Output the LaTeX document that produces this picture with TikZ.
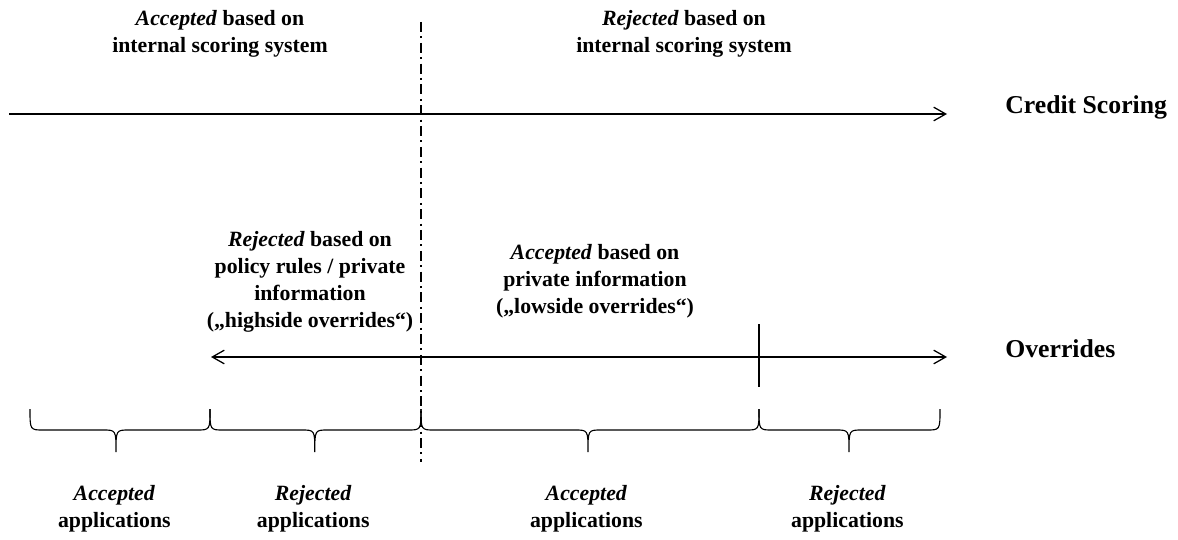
\documentclass[tikz,border=0pt]{standalone}
\usepackage{fontspec}
\setmainfont{Liberation Serif}
\usetikzlibrary{arrows.meta,positioning}

\tikzset{
  txt/.style={font=\bfseries\fontsize{15.5}{19.2}\selectfont, align=center, inner sep=0pt},
  head/.style={font=\bfseries\fontsize{18.3}{22}\selectfont, inner sep=0pt, anchor=base west},
  barb/.tip={Straight Barb[length=0.3cm,width=0.34cm]},
  scale line/.style={line width=0.9pt},
  cutoff/.style={line width=0.8pt, dash pattern=on 0.25cm off 0.11cm on 0.05cm off 0.11cm},
  brc/.style={line width=0.8pt}
}

\begin{document}
\begin{tikzpicture}
            \useasboundingbox (0,0) rectangle (29.45,13.475);
            % Credit scoring axis
            \coordinate (csL) at (0.225,10.625);
            \coordinate (csR) at (23.675,10.625);
            \draw[scale line, -barb] (csL) -- (csR);
            \node[head] (cs) at (25.125,10.625) {Credit Scoring};
            % Overrides axis
            \coordinate (ovL) at (5.275,4.55);
            \coordinate (ovR) at (23.675,4.55);
            \draw[scale line, barb-barb] (ovL) -- (ovR);
            \node[head] (ov) at (25.125,4.55) {Overrides};
            \draw[line width=1.3pt] (18.975,5.375) -- (18.975,3.8);
            % Cut-off of the scoring system
            \coordinate (cutT) at (10.525,12.925);
            \coordinate (cutB) at (10.525,1.925);
            \draw[cutoff] (cutT) -- (cutB);
            % Decisions of the scoring system
            \node[txt] (accCS) at (5.5,12.62) {\textit{Accepted} based on\\internal scoring system};
            \node[txt] (rejCS) at (17.1,12.62) {\textit{Rejected} based on\\internal scoring system};
            % Overrides
            \node[txt] (high) at (7.75,6.44) {\textit{Rejected} based on\\policy rules / private\\information\\(„highside overrides“)};
            \node[txt] (low) at (14.875,6.44) {\textit{Accepted} based on\\private information\\(„lowside overrides“)};
            % Braces and resulting applications
            \foreach \a/\m/\b/\w [count=\i] in {0.75/2.9/5.25/Accepted, 5.25/7.87/10.525/Rejected, 10.525/14.7/18.975/Accepted, 18.975/21.225/23.5/Rejected}{
              \draw[brc] (\a,3.25) .. controls (\a,2.725) .. (\a+0.33,2.725) -- (\m-0.33,2.725)
                .. controls (\m,2.725) .. (\m,2.175) .. controls (\m,2.725) .. (\m+0.33,2.725)
                -- (\b-0.33,2.725) .. controls (\b,2.725) .. (\b,3.25);
              \node[txt] (app\i) at (\m-0.04,0.764) {\textit{\w}\\applications};
            }
          \end{tikzpicture}
\end{document}
